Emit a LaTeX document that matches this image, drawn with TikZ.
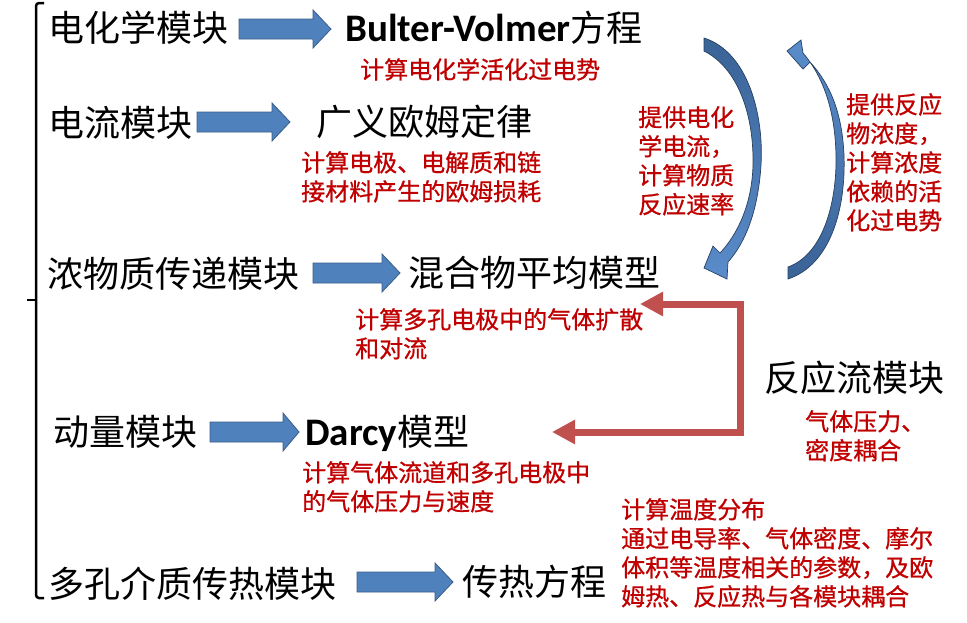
\documentclass[tikz,border=0pt]{standalone}
\usepackage{fontspec}
\newfontfamily\cjk{Noto Sans CJK SC}
\newfontfamily\cjkheavy{Noto Sans CJK SC}[FakeBold=0.8]
\newfontfamily\carlito{Carlito}
\usetikzlibrary{arrows.meta}
\definecolor{blockblue}{HTML}{4F81BD}
\definecolor{blockedge}{HTML}{385D8A}
\definecolor{bluedark}{HTML}{3A6396}
\definecolor{bluelight}{HTML}{5A8CCB}
\definecolor{descred}{HTML}{C00000}
\definecolor{linkred}{HTML}{C0504D}

\tikzset{
  module/.style={anchor=west, inner sep=0pt, font=\cjk\fontsize{36}{40}\selectfont},
  latinname/.style={font=\carlito\bfseries\fontsize{39}{40}\selectfont},
  desc/.style={anchor=north west, inner sep=0pt, align=left, text=descred,
    font=\cjkheavy\fontsize{24}{29}\selectfont},
  blockar/.style={fill=blockblue, draw=blockedge, line width=0.8pt},
  crescent/.style={draw=blockedge!70!black, line width=0.7pt},
  feedback/.style={draw=linkred, line width=7pt, line join=miter,
    {Triangle[length=23pt,width=23pt]}-{Triangle[length=23pt,width=23pt]}},
  bracket/.style={draw=black, line width=2.5pt}
}

% block arrow: start x, head base x, tip x, centre y
\newcommand\blockarrow[4]{%
  \draw[blockar] (#1,#4-10) -- (#2,#4-10) -- (#2,#4-19) -- (#3,#4)
    -- (#2,#4+19) -- (#2,#4+10) -- (#1,#4+10) -- cycle;}

\begin{document}
\begin{tikzpicture}[x=1pt,y=-1pt]
\useasboundingbox (0,0) rectangle (967,622);

% bracket grouping the modules
\draw[bracket, rounded corners=3pt] (44,3) -- (36,3) -- (36,598) -- (44,598);
\draw[bracket] (36,300) -- (27,300);

% modules and their governing equations
\node[module] (m1) at (48,28) {电化学模块};
\node[module] (r1) at (345,28) {{\carlito\bfseries\fontsize{39}{40}\selectfont Bulter-Volmer}方程};
\node[desc] (d1) at (360,58) {计算电化学活化过电势};
\blockarrow{239}{313}{331}{29}

\node[module] (m2) at (48,123) {电流模块};
\node[module] (r2) at (316,122) {广义欧姆定律};
\node[desc] (d2) at (301,151) {计算电极、电解质和链\\接材料产生的欧姆损耗};
\blockarrow{197}{272}{290}{122}

\node[module] (m3) at (47,274) {浓物质传递模块};
\node[module] (r3) at (408,273) {混合物平均模型};
\node[desc] (d3) at (355,308) {计算多孔电极中的气体扩散\\和对流};
\blockarrow{313}{382}{400}{273}

\node[module] (m4) at (53,432) {动量模块};
\node[module] (r4) at (305,433) {{\carlito\bfseries\fontsize{39}{40}\selectfont Darcy}模型};
\node[desc] (d4) at (302,461) {计算气体流道和多孔电极中\\的气体压力与速度};
\blockarrow{210}{283}{299}{432}

\node[module] (m5) at (48,584) {多孔介质传热模块};
\node[module] (r5) at (462,582) {传热方程};
\node[desc] (d5) at (621,498) {计算温度分布\\通过电导率、气体密度、摩尔\\体积等温度相关的参数，及欧\\姆热、反应热与各模块耦合};
\blockarrow{357}{435}{453}{582}

% reacting flow module
\node[module] (m6) at (764,378) {反应流模块};
\node[desc] (d6) at (805,410) {气体压力、\\密度耦合};

% coupling texts beside the curved arrows
\node[desc] (c1) at (638,106) {提供电化\\学电流，\\计算物质\\反应速率};
\node[desc] (c2) at (846,93) {提供反应\\物浓度，\\计算浓度\\依赖的活\\化过电势};

% curved arrow: electrochemistry -> transport
\path[crescent, top color=bluedark, bottom color=bluelight]
  (704,38) .. controls (748,52) and (764,115) .. (761,165)
  .. controls (758,212) and (745,243) .. (728,262)
  -- (727,279) -- (704,268) -- (713,246) -- (720,253)
  .. controls (737,235) and (752,205) .. (753,165)
  .. controls (754,115) and (738,68) .. (704,51) -- cycle;

% curved arrow: transport -> electrochemistry
\path[crescent, top color=bluelight, bottom color=bluedark]
  (788,279) .. controls (830,265) and (846,210) .. (844,155)
  .. controls (842,112) and (830,84) .. (810,62)
  -- (803,69) -- (787,51) -- (801,40) -- (803,53)
  .. controls (822,75) and (835,108) .. (836,155)
  .. controls (837,205) and (822,255) .. (788,267) -- cycle;

% pressure/density feedback loop
\coordinate (fb1) at (640,304);
\coordinate (fb2) at (740,304);
\coordinate (fb3) at (740,432);
\coordinate (fb4) at (552,432);
\draw[feedback] (fb1) -- (fb2) -- (fb3) -- (fb4);
\end{tikzpicture}
\end{document}
